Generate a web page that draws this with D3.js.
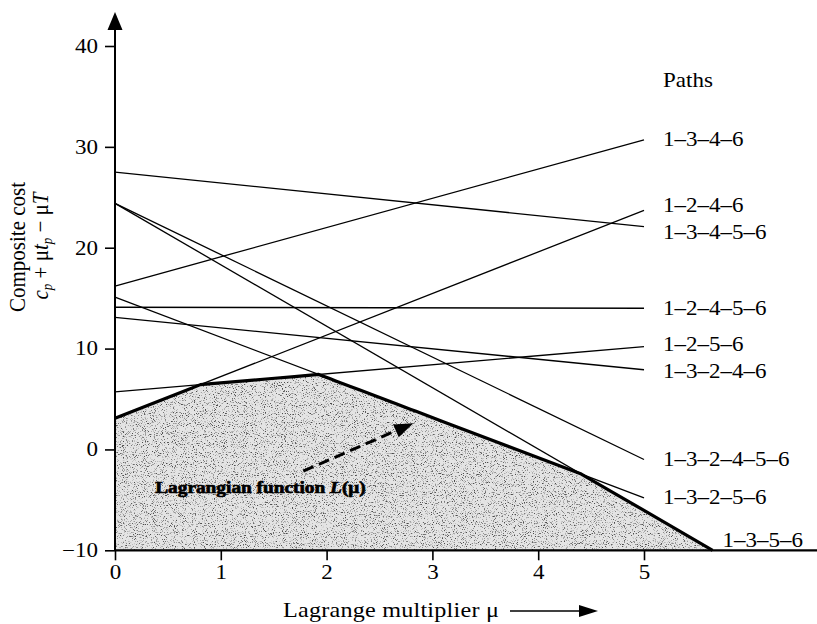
<!DOCTYPE html>
<html>
<head>
<meta charset="utf-8">
<script src="https://cdn.jsdelivr.net/npm/d3@7"></script>
<style>
  body { margin: 0; background: #fff; }
  svg { display: block; font-family: "Liberation Serif", "DejaVu Serif", serif; }
</style>
</head>
<body>
<svg id="canvas"></svg>
<script>
// paths of the network and their composite cost at mu = 0 and mu = 5
let paths   = ["1–3–4–6", "1–2–4–6", "1–3–4–5–6", "1–2–4–5–6", "1–2–5–6",
               "1–3–2–4–6", "1–3–2–4–5–6", "1–3–2–5–6", "1–3–5–6"];
let costAt0 = [16.2, 3.1, 27.5, 14.1, 5.7, 13.1, 24.4, 15.1, 24.4];
let costAt5 = [30.7, 23.7, 22.1, 14.0, 10.2, 7.9, -1.0, -4.8, -6.05];

let xTicks = [0, 1, 2, 3, 4, 5];
let yTicks = [-10, 0, 10, 20, 30, 40];

// dashed arrow pointing at the envelope, in data units
let arrowFrom = [1.78, -2.15];
let arrowTo   = [2.82, 2.6];
let lagLabelAt = [0.38, -3.8];

let W = 817, H = 624;
let svg = d3.select("#canvas").attr("width", W).attr("height", H);

// the scanned figure is a bit wider than it is tall, so type is stretched
let sx = 1.15;

let x = d3.scaleLinear().domain([0, 5]).range([115, 644]);
let y = d3.scaleLinear().domain([-10, 40]).range([550.3, 46]);
let yMin = -10, muMax = 5;

let lines = paths.map((p, i) => ({
  name: p,
  c: costAt0[i],
  s: (costAt5[i] - costAt0[i]) / 5
}));
let val = (l, m) => l.c + l.s * m;

// the line lowest at mu = 5 keeps going down to the floor
let lowest = d3.least(lines, l => val(l, muMax));
lines.forEach(l => {
  l.end = l === lowest ? (yMin - l.c) / l.s : muMax;
});

// lower envelope L(mu): breakpoints from pairwise crossings
let cand = [0, muMax, lowest.end];
lines.forEach((a, i) => lines.forEach((b, j) => {
  if (j <= i || a.s === b.s) return;
  let m = (b.c - a.c) / (a.s - b.s);
  if (m > 0 && m < muMax) cand.push(m);
}));
cand.sort((a, b) => a - b);
let env = cand.map(m => {
  let active = lines.filter(l => m <= l.end + 1e-9);
  return [m, d3.min(active, l => val(l, m))];
});

function stext(g, px, py, size) {
  return g.append("text")
    .attr("transform", `translate(${px},${py}) scale(${sx},1)`)
    .attr("dy", "0.33em")
    .attr("font-size", size)
    .attr("fill", "#000");
}

// stipple texture
let defs = svg.append("defs");
let f = defs.append("filter").attr("id", "stipple")
  .attr("x", 0).attr("y", 0).attr("width", 1).attr("height", 1)
  .attr("color-interpolation-filters", "sRGB");
f.append("feTurbulence").attr("type", "fractalNoise")
  .attr("baseFrequency", 0.9).attr("numOctaves", 2).attr("seed", 7).attr("result", "n");
f.append("feColorMatrix").attr("in", "n").attr("type", "matrix")
  .attr("values", "0 0 0 0 0.3  0 0 0 0 0.3  0 0 0 0 0.3  -5 0 0 0 2.2")
  .attr("result", "dots");
f.append("feComposite").attr("in", "dots").attr("in2", "SourceGraphic").attr("operator", "in");

let area = [[0, yMin]].concat(env, [[lowest.end, yMin]]);
let poly = d3.line().x(d => x(d[0])).y(d => y(d[1]));

svg.append("path").attr("d", poly(area) + "Z").attr("fill", "#e4e4e4");
svg.append("path").attr("d", poly(area) + "Z").attr("fill", "#000")
  .attr("filter", "url(#stipple)");

// path lines
svg.append("g").selectAll("line")
  .data(lines)
  .join("line")
  .attr("x1", x(0))
  .attr("y1", d => y(val(d, 0)))
  .attr("x2", d => x(d.end))
  .attr("y2", d => y(val(d, d.end)))
  .attr("stroke", "#000")
  .attr("stroke-width", 1.3);

// envelope
svg.append("path").attr("d", poly(env))
  .attr("fill", "none").attr("stroke", "#000").attr("stroke-width", 3.2)
  .attr("stroke-linejoin", "round");

// axes
let yAxis = d3.axisLeft(y).tickValues(yTicks).tickSize(10).tickPadding(7)
  .tickFormat(d => d < 0 ? "−" + Math.abs(d) : d);
let gy = svg.append("g").attr("transform", `translate(${x(0)},0)`).call(yAxis);
gy.select(".domain").remove();

let xAxis = d3.axisBottom(x).tickValues(xTicks).tickSize(10).tickPadding(5)
  .tickFormat(d3.format("d"));
let gx = svg.append("g").attr("transform", `translate(0,${y(yMin)})`).call(xAxis);
gx.select(".domain").remove();

[gx, gy].forEach(g => {
  g.selectAll("line").attr("stroke", "#000").attr("stroke-width", 1.6);
  g.selectAll("text").attr("fill", "#000").attr("font-size", 20)
    .attr("font-family", "Liberation Serif")
    .attr("transform", `scale(${sx},1)`);
});
gy.selectAll("text").attr("x", -17 / sx);

svg.append("line").attr("x1", x(0)).attr("x2", W).attr("y1", y(yMin)).attr("y2", y(yMin))
  .attr("stroke", "#000").attr("stroke-width", 2.2);
svg.append("line").attr("x1", x(0)).attr("x2", x(0)).attr("y1", y(yMin)).attr("y2", 26)
  .attr("stroke", "#000").attr("stroke-width", 2);
svg.append("path")
  .attr("d", `M${x(0)},12 L${x(0) - 7.5},30 L${x(0) + 7.5},30 Z`)
  .attr("fill", "#000");

// path labels, nudged apart where they crowd
let labs = lines.filter(l => l !== lowest).map(l => ({ name: l.name, y: y(val(l, muMax)) }));
labs.sort((a, b) => a.y - b.y);
for (let k = 0; k < 3; k++) {
  for (let i = 1; i < labs.length; i++) {
    let gap = labs[i].y - labs[i - 1].y;
    if (gap < 27) {
      let push = (27 - gap) / 2;
      labs[i - 1].y -= push;
      labs[i].y += push;
    }
  }
}
let gl = svg.append("g");
labs.forEach(d => stext(gl, x(muMax) + 19, d.y, 20).text(d.name));
stext(gl, x(lowest.end) + 10, y(yMin) - 10, 20).text(lowest.name);
stext(gl, x(muMax) + 19, 80, 20).text("Paths");

// axis titles
stext(svg, 283, 610, 21).attr("letter-spacing", 0.2).text("Lagrange multiplier μ");
svg.append("line").attr("x1", 510).attr("x2", 584).attr("y1", 611).attr("y2", 611)
  .attr("stroke", "#000").attr("stroke-width", 1.5);
svg.append("path").attr("d", "M598,611 L579,605 L579,617 Z").attr("fill", "#000");

svg.append("text")
  .attr("transform", "translate(25,247) rotate(-90) scale(1,1.1)")
  .attr("text-anchor", "middle")
  .attr("font-size", 21)
  .text("Composite cost");

let yt2 = svg.append("text")
  .attr("transform", "translate(48,246) rotate(-90) scale(1,1.1)")
  .attr("text-anchor", "middle")
  .attr("font-size", 21);
yt2.append("tspan").attr("font-style", "italic").text("c");
yt2.append("tspan").attr("font-style", "italic").attr("font-size", 13).attr("dy", 4).text("p");
yt2.append("tspan").attr("dy", -4).text(" + μ");
yt2.append("tspan").attr("font-style", "italic").text("t");
yt2.append("tspan").attr("font-style", "italic").attr("font-size", 13).attr("dy", 4).text("p");
yt2.append("tspan").attr("dy", -4).text(" − μ");
yt2.append("tspan").attr("font-style", "italic").text("T");

// Lagrangian annotation
svg.append("line")
  .attr("x1", x(arrowFrom[0])).attr("y1", y(arrowFrom[1]))
  .attr("x2", x(arrowTo[0]) - 14).attr("y2", y(arrowTo[1]) + 6)
  .attr("stroke", "#000").attr("stroke-width", 3).attr("stroke-dasharray", "11,6");
let ax = x(arrowTo[0]), ay = y(arrowTo[1]);
let ang = Math.atan2(y(arrowTo[1]) - y(arrowFrom[1]), x(arrowTo[0]) - x(arrowFrom[0]));
let ah = [[0, 0], [-19, -7], [-19, 7]].map(([u, v]) =>
  [ax + u * Math.cos(ang) - v * Math.sin(ang), ay + u * Math.sin(ang) + v * Math.cos(ang)]);
svg.append("path").attr("d", "M" + ah.join("L") + "Z").attr("fill", "#000");

let lt = stext(svg, x(lagLabelAt[0]), y(lagLabelAt[1]), 16.8)
  .attr("font-weight", "bold").attr("stroke", "#000").attr("stroke-width", 0.7);
lt.append("tspan").text("Lagrangian function ");
lt.append("tspan").attr("font-style", "italic").text("L");
lt.append("tspan").text("(μ)");
</script>
</body>
</html>
